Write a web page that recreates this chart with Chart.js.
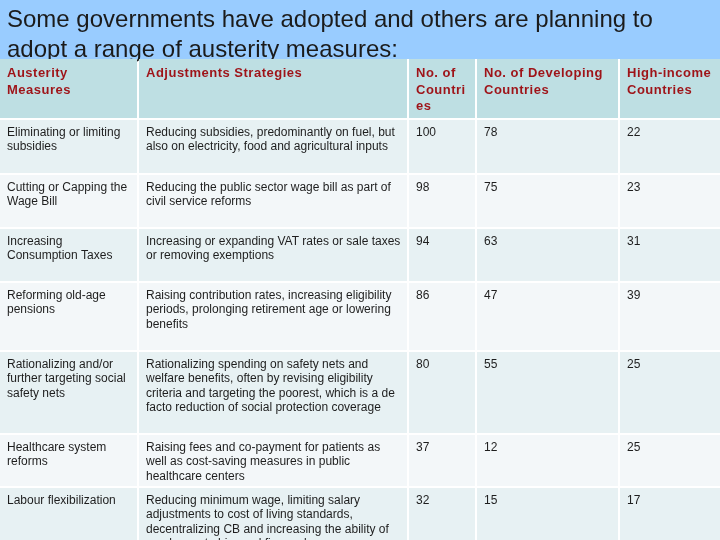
<!DOCTYPE html>
<html>
<head>
<meta charset="utf-8">
<script src="https://cdn.jsdelivr.net/npm/chart.js@4/dist/chart.umd.min.js"></script>
<style>
  html, body { margin: 0; padding: 0; background: #ffffff; overflow: hidden; }
  #wrap { width: 720px; height: 540px; position: relative; }
</style>
</head>
<body>
<div id="wrap"><canvas id="c" width="720" height="540"></canvas></div>
<script>
// ---- data ----
const titleLines = [
  "Some governments have adopted and others are planning to",
  "adopt a range of austerity measures:"
];
const columnHeaders = [
  "Austerity Measures",
  "Adjustments Strategies",
  "No. of Countries",
  "No. of Developing Countries",
  "High-income Countries"
];
const measures = [
  "Eliminating or limiting subsidies",
  "Cutting or Capping the Wage Bill",
  "Increasing Consumption Taxes",
  "Reforming old-age pensions",
  "Rationalizing and/or further targeting social safety nets",
  "Healthcare system reforms",
  "Labour flexibilization"
];
const strategies = [
  "Reducing subsidies, predominantly on fuel, but also on electricity, food and agricultural inputs",
  "Reducing the public sector wage bill as part of civil service reforms",
  "Increasing or expanding VAT rates or sale taxes or removing exemptions",
  "Raising contribution rates, increasing eligibility periods, prolonging retirement age or lowering benefits",
  "Rationalizing spending on safety nets and welfare benefits, often by revising eligibility criteria and targeting the poorest, which is a de facto reduction of social protection coverage",
  "Raising fees and co-payment for patients as well as cost-saving measures in public healthcare centers",
  "Reducing minimum wage, limiting salary adjustments to cost of living standards, decentralizing CB and increasing the ability of employers to hire and fire workers"
];
const totalCountries = [100, 98, 94, 86, 80, 37, 32];
const developingCountries = [78, 75, 63, 47, 55, 12, 15];
const highIncomeCountries = [22, 23, 31, 39, 25, 25, 17];

// ---- layout / style (not data) ----
const layoutOpts = {
  titleBandBottom: 59,
  colEdges: [0, 139, 409, 477, 620, 722],
  gap: 2,
  headerTop: 59,
  headerHeight: 59,
  rowHeights: [53, 52, 52, 67, 81, 51, 70],
  padX: 7,
  titleColor: "#1b1b1b",
  titleBand: "#99ccff",
  headerFill: "#bedfe3",
  rowFills: ["#e7f1f3", "#f3f7f9"],
  headerColor: "#9e1318",
  bodyColor: "#1e1e1e",
  titleFont: "24px 'Liberation Sans', Arial, sans-serif",
  headerFont: "bold 13px 'Liberation Sans', Arial, sans-serif",
  headerSpacing: "0.5px",
  bodyFont: "12px 'Liberation Sans', Arial, sans-serif"
};

function wrapText(ctx, text, maxW) {
  const words = String(text).split(" ");
  const lines = [];
  let cur = "";
  for (const w of words) {
    const test = cur ? cur + " " + w : w;
    if (ctx.measureText(test).width <= maxW) { cur = test; continue; }
    if (cur) { lines.push(cur); cur = ""; }
    if (ctx.measureText(w).width <= maxW) { cur = w; continue; }
    let part = "";
    for (const ch of w) {
      if (ctx.measureText(part + ch).width > maxW && part) { lines.push(part); part = ch; }
      else part += ch;
    }
    cur = part;
  }
  if (cur) lines.push(cur);
  return lines;
}

const tablePlugin = {
  id: "austerityTable",
  afterDraw(chart, args, o) {
    const ctx = chart.ctx;
    const xs = chart.scales.x, ys = chart.scales.y;
    const X = v => xs.getPixelForValue(v);
    const Y = v => ys.getPixelForValue(v);
    ctx.save();
    ctx.fillStyle = o.titleBand;
    ctx.fillRect(X(0), Y(0), X(720) - X(0), Y(o.titleBandBottom) - Y(0));
    ctx.fillStyle = o.titleColor;
    ctx.font = o.titleFont;
    ctx.textBaseline = "alphabetic";
    ctx.textAlign = "left";
    titleLines.forEach((t, i) => ctx.fillText(t, X(7), Y(27 + i * 30)));

    const nCols = o.colEdges.length - 1;
    const colW = c => o.colEdges[c + 1] - o.colEdges[c] - o.gap;

    const cell = (c, top, h, fill, font, spacing, color, text, lh, base, extra) => {
      const x0 = X(o.colEdges[c]), x1 = X(o.colEdges[c] + colW(c));
      const y0 = Y(top), y1 = Y(top + h);
      ctx.fillStyle = fill;
      ctx.fillRect(x0, y0, x1 - x0, y1 - y0);
      ctx.save();
      ctx.beginPath();
      ctx.rect(x0, y0, x1 - x0, y1 - y0);
      ctx.clip();
      ctx.font = font;
      if ("letterSpacing" in ctx) ctx.letterSpacing = spacing;
      ctx.fillStyle = color;
      const lines = wrapText(ctx, text, colW(c) - o.padX - extra);
      lines.forEach((l, i) => ctx.fillText(l, X(o.colEdges[c] + o.padX), Y(top + base + i * lh)));
      ctx.restore();
    };

    let top = o.headerTop;
    for (let c = 0; c < nCols; c++) {
      cell(c, top, o.headerHeight, o.headerFill, o.headerFont, o.headerSpacing, o.headerColor, columnHeaders[c], 16.5, 18, 5);
    }
    top += o.headerHeight + o.gap;

    for (let r = 0; r < measures.length; r++) {
      const h = o.rowHeights[r];
      const cells = [measures[r], strategies[r], totalCountries[r], developingCountries[r], highIncomeCountries[r]];
      for (let c = 0; c < nCols; c++) {
        cell(c, top, h, o.rowFills[r % 2], o.bodyFont, "0px", o.bodyColor, cells[c], 14.3, 16, 4);
      }
      top += h + o.gap;
    }
    ctx.restore();
  }
};

new Chart(document.getElementById("c"), {
  type: "scatter",
  data: { datasets: [{ data: [], showLine: false }] },
  options: {
    responsive: false,
    animation: false,
    devicePixelRatio: 1,
    layout: { padding: 0 },
    events: [],
    plugins: {
      legend: { display: false },
      tooltip: { enabled: false },
      title: { display: false },
      austerityTable: layoutOpts
    },
    scales: {
      x: { type: "linear", display: false, min: 0, max: 720, offset: false },
      y: { type: "linear", display: false, min: 0, max: 540, reverse: true, offset: false }
    }
  },
  plugins: [tablePlugin]
});
</script>
</body>
</html>
